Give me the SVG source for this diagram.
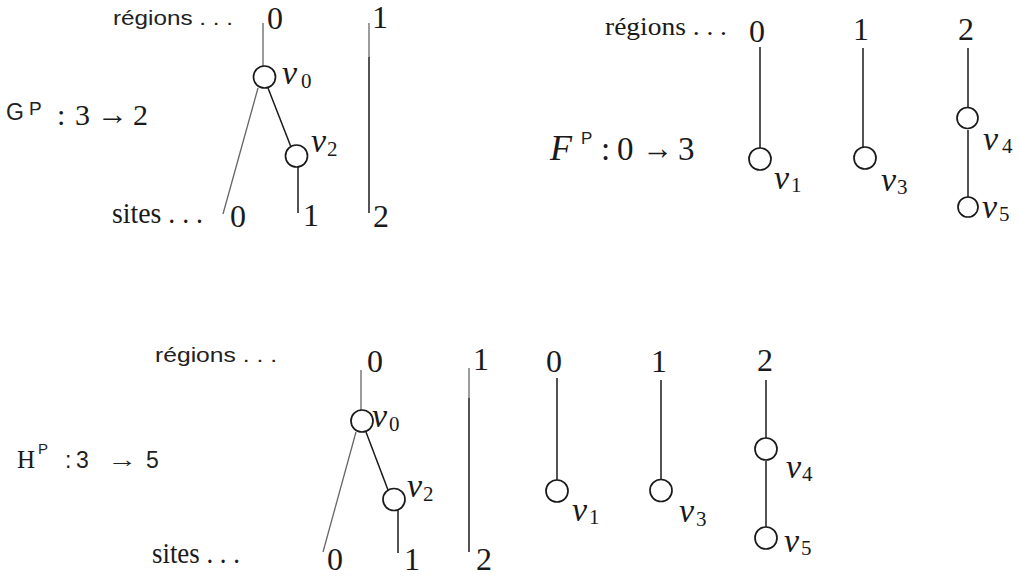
<svg xmlns="http://www.w3.org/2000/svg" width="1019" height="577" viewBox="0 0 1019 577">
<style>
.ln{stroke:#1a1a1a;stroke-width:1.5;fill:none}
.lg{stroke:#666;stroke-width:1.3;fill:none}
.nd{fill:#fff;stroke:#1a1a1a;stroke-width:1.7}
.t{font-family:"Liberation Serif",serif;fill:#1a1a1a}
.s{font-family:"Liberation Sans",sans-serif;fill:#222}
.dg{font-size:32px}
.vi{font-style:italic;font-size:34px}
.sb{font-size:21px}
</style>
<rect width="1019" height="577" fill="#fff"/>

<g id="connectors">
  <!-- G^P -->
  <line class="lg" x1="263" y1="23" x2="263" y2="66"/>
  <line class="lg" x1="258" y1="88" x2="223" y2="214"/>
  <line class="ln" x1="268" y1="88" x2="291" y2="147"/>
  <line class="ln" x1="298" y1="167" x2="298" y2="213"/>
  <line class="lg" x1="369" y1="23" x2="369" y2="57"/>
  <line class="ln" x1="369" y1="57" x2="369" y2="213"/>
  <!-- F^P -->
  <line class="ln" x1="760" y1="47" x2="760" y2="148"/>
  <line class="ln" x1="863" y1="48" x2="863" y2="147"/>
  <line class="ln" x1="968" y1="48" x2="968" y2="107"/>
  <line class="ln" x1="968" y1="130" x2="968" y2="197"/>
  <!-- H^P -->
  <line class="lg" x1="361" y1="370" x2="361" y2="410"/>
  <line class="lg" x1="356" y1="432" x2="323" y2="552"/>
  <line class="ln" x1="366" y1="432" x2="388" y2="490"/>
  <line class="ln" x1="398" y1="510" x2="398" y2="553"/>
  <line class="lg" x1="469" y1="368" x2="469" y2="398"/>
  <line class="ln" x1="469" y1="398" x2="469" y2="552"/>
  <line class="ln" x1="557" y1="378" x2="557" y2="480"/>
  <line class="ln" x1="661" y1="380" x2="661" y2="479"/>
  <line class="ln" x1="766" y1="380" x2="766" y2="438"/>
  <line class="ln" x1="766" y1="461" x2="766" y2="527"/>
</g>

<g id="G-labels">
  <text class="s" x="113" y="25" font-size="21" textLength="120" lengthAdjust="spacingAndGlyphs">régions . . .</text>
  <text class="t" x="112" y="223" font-size="30" textLength="91" lengthAdjust="spacingAndGlyphs">sites . . .</text>
  <text class="t dg" x="267" y="29">0</text>
  <text class="t dg" x="372" y="28">1</text>
  <text class="t dg" x="230" y="227">0</text>
  <text class="t dg" x="303" y="226">1</text>
  <text class="t dg" x="373" y="227">2</text>
  <text class="s" x="6" y="120" font-size="23">G</text>
  <text class="s" x="29" y="115" font-size="19">P</text>
  <text class="t" y="125" font-size="30"><tspan x="57">:</tspan><tspan x="75">3</tspan><tspan x="133">2</tspan></text>
  <text class="t" x="97" y="124" font-size="30" textLength="31" lengthAdjust="spacingAndGlyphs">→</text>
</g>
<g id="G-v0">
  <circle class="nd" cx="264.5" cy="77" r="11"/>
  <text class="t vi" x="282" y="84">v</text><text class="t sb" x="301" y="88">0</text>
</g>
<g id="G-v2">
  <circle class="nd" cx="296.5" cy="156" r="11"/>
  <text class="t vi" x="311" y="152">v</text><text class="t sb" x="327" y="156">2</text>
</g>

<g id="F-labels">
  <text class="t" x="605" y="35" font-size="25" textLength="122" lengthAdjust="spacingAndGlyphs">régions . . .</text>
  <text class="t dg" x="749" y="42">0</text>
  <text class="t dg" x="853" y="40">1</text>
  <text class="t dg" x="958" y="40">2</text>
  <text class="t" x="550" y="160" font-size="36" font-style="italic">F</text>
  <text class="s" x="581" y="144" font-size="17">P</text>
  <text class="t" y="160" font-size="33"><tspan x="601">:</tspan><tspan x="617">0</tspan><tspan x="678">3</tspan></text>
  <text class="t" x="642" y="159" font-size="33" textLength="31" lengthAdjust="spacingAndGlyphs">→</text>
</g>
<g id="F-v1">
  <circle class="nd" cx="760" cy="159" r="11"/>
  <text class="t vi" x="774" y="189">v</text><text class="t sb" x="791" y="192">1</text>
</g>
<g id="F-v3">
  <circle class="nd" cx="865" cy="158" r="11"/>
  <text class="t vi" x="881" y="191">v</text><text class="t sb" x="897" y="194">3</text>
</g>
<g id="F-v4">
  <circle class="nd" cx="967.5" cy="118" r="10.5"/>
  <text class="t vi" x="983" y="150">v</text><text class="t sb" x="1002" y="153">4</text>
</g>
<g id="F-v5">
  <circle class="nd" cx="968" cy="207" r="10"/>
  <text class="t vi" x="982" y="218">v</text><text class="t sb" x="999" y="221">5</text>
</g>

<g id="H-labels">
  <text class="s" x="155" y="362" font-size="21" textLength="122" lengthAdjust="spacingAndGlyphs">régions . . .</text>
  <text class="t" x="152" y="563" font-size="29" textLength="88" lengthAdjust="spacingAndGlyphs">sites . . .</text>
  <text class="t dg" x="367" y="372">0</text>
  <text class="t dg" x="473" y="370">1</text>
  <text class="t dg" x="327" y="570">0</text>
  <text class="t dg" x="404" y="570">1</text>
  <text class="t dg" x="476" y="570">2</text>
  <text class="t dg" x="546" y="372">0</text>
  <text class="t dg" x="651" y="372">1</text>
  <text class="t dg" x="757" y="371">2</text>
  <text class="t" x="17" y="468" font-size="25">H</text>
  <text class="s" x="38" y="454" font-size="15">P</text>
  <text class="s" y="468" font-size="23"><tspan x="65">:</tspan><tspan x="76">3</tspan><tspan x="146">5</tspan></text>
  <text class="s" x="107" y="467" font-size="23" textLength="30" lengthAdjust="spacingAndGlyphs">→</text>
</g>
<g id="H-v0">
  <circle class="nd" cx="362" cy="421" r="11"/>
  <text class="t vi" x="372" y="427" font-size="30">v</text><text class="t sb" x="389" y="431" font-size="19">0</text>
</g>
<g id="H-v2">
  <circle class="nd" cx="394" cy="499.5" r="11"/>
  <text class="t vi" x="407" y="497" font-size="30">v</text><text class="t sb" x="423" y="501" font-size="19">2</text>
</g>
<g id="H-v1">
  <circle class="nd" cx="557" cy="491" r="11"/>
  <text class="t vi" x="572" y="521">v</text><text class="t sb" x="589" y="524">1</text>
</g>
<g id="H-v3">
  <circle class="nd" cx="661" cy="490.5" r="11"/>
  <text class="t vi" x="679" y="522">v</text><text class="t sb" x="696" y="526">3</text>
</g>
<g id="H-v4">
  <circle class="nd" cx="766" cy="449" r="11"/>
  <text class="t vi" x="786" y="478">v</text><text class="t sb" x="802" y="481">4</text>
</g>
<g id="H-v5">
  <circle class="nd" cx="766" cy="538" r="11"/>
  <text class="t vi" x="784" y="552">v</text><text class="t sb" x="801" y="555">5</text>
</g>
</svg>
